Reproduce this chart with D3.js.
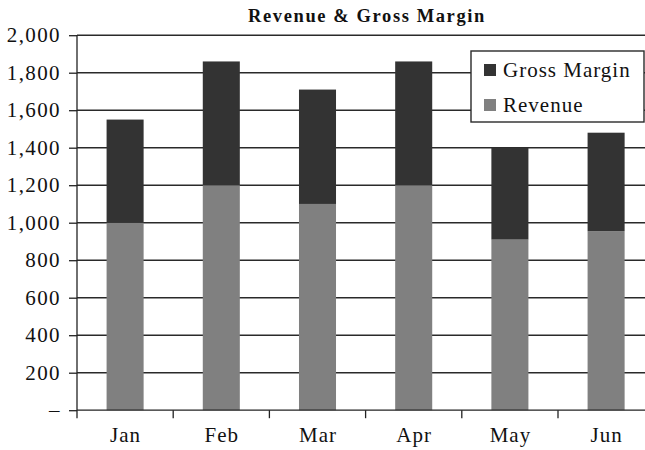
<!DOCTYPE html>
<html>
<head>
<meta charset="utf-8">
<script src="https://cdn.jsdelivr.net/npm/d3@7"></script>
<style>
  html, body { margin: 0; padding: 0; background: #fff; }
  svg { display: block; }
  svg text { font-family: "Liberation Serif", "Times New Roman", serif; }
</style>
</head>
<body>
<svg id="chart" width="645" height="450"></svg>
<script>
// Monthly figures
const months = ["Jan", "Feb", "Mar", "Apr", "May", "Jun"];
const revenue = [1000, 1200, 1100, 1200, 910, 955];
const grossMargin = [550, 660, 610, 660, 490, 525];
const yTicks = [0, 200, 400, 600, 800, 1000, 1200, 1400, 1600, 1800, 2000];
const seriesNames = ["Gross Margin", "Revenue"];
const seriesColors = { "Revenue": "#808080", "Gross Margin": "#333333" };

const FONT = "'Liberation Serif', 'Times New Roman', serif";
const svg = d3.select("#chart");
const plotLeft = 77, plotTop = 35.2, plotBottom = 410.2;
const step = 96.2;

const x = d3.scaleBand()
  .domain(months)
  .range([plotLeft, plotLeft + step * months.length])
  .paddingInner(0.615)
  .paddingOuter(0.3075);

const y = d3.scaleLinear().domain([0, 2000]).range([plotBottom, plotTop]);

// Title
svg.append("text")
  .attr("x", 367).attr("y", 22.3)
  .attr("text-anchor", "middle")
  .attr("font-family", FONT)
  .attr("font-weight", "bold")
  .attr("font-size", 18.5)
  .attr("letter-spacing", 1.6)
  .attr("fill", "#111")
  .text("Revenue & Gross Margin");

// Horizontal gridlines
svg.append("g")
  .selectAll("line")
  .data(yTicks.filter(d => d > 0))
  .join("line")
  .attr("x1", plotLeft).attr("x2", 645)
  .attr("y1", d => y(d)).attr("y2", d => y(d))
  .attr("stroke", "#2a2a2a")
  .attr("stroke-width", 1.4);

// Stacked bars
const rows = months.map((m, i) => ({ month: m, Revenue: revenue[i], "Gross Margin": grossMargin[i] }));
const stack = d3.stack().keys(["Revenue", "Gross Margin"])(rows);

svg.append("g")
  .selectAll("g")
  .data(stack)
  .join("g")
  .attr("fill", d => seriesColors[d.key])
  .selectAll("rect")
  .data(d => d)
  .join("rect")
  .attr("x", d => x(d.data.month))
  .attr("width", x.bandwidth())
  .attr("y", d => y(d[1]))
  .attr("height", d => y(d[0]) - y(d[1]));

// Y axis
const yAxis = d3.axisLeft(y)
  .tickValues(yTicks)
  .tickSize(8)
  .tickPadding(8)
  .tickFormat(d => d === 0 ? "\u2013" : d3.format(",")(d));

const gy = svg.append("g")
  .attr("transform", `translate(${plotLeft},0)`)
  .call(yAxis)
  .attr("font-family", FONT);
gy.select(".domain").attr("stroke", "#222").attr("stroke-width", 1.3).attr("d", `M0,${plotTop}V${plotBottom}`);
gy.selectAll(".tick line").attr("stroke", "#222").attr("stroke-width", 1.3);
gy.selectAll(".tick text")
  .attr("font-size", 21)
  .attr("letter-spacing", 1.4)
  .attr("fill", "#111")
  .attr("font-family", FONT);

// X axis: ticks at category boundaries, labels centred under bars
const boundaries = d3.range(months.length).map(i => plotLeft + i * step);
const gx = svg.append("g");
gx.append("line")
  .attr("x1", plotLeft).attr("x2", 645)
  .attr("y1", plotBottom).attr("y2", plotBottom)
  .attr("stroke", "#222").attr("stroke-width", 1.3);
gx.selectAll("line.tick")
  .data(boundaries)
  .join("line")
  .attr("class", "tick")
  .attr("x1", d => d).attr("x2", d => d)
  .attr("y1", plotBottom).attr("y2", plotBottom + 8)
  .attr("stroke", "#222").attr("stroke-width", 1.3);
gx.selectAll("text")
  .data(months)
  .join("text")
  .attr("x", d => x(d) + x.bandwidth() / 2 + 0.5)
  .attr("y", 442.3)
  .attr("text-anchor", "middle")
  .attr("font-family", FONT)
  .attr("font-size", 21)
  .attr("letter-spacing", 1)
  .attr("fill", "#111")
  .text(d => d);

// Legend
const lg = svg.append("g");
lg.append("rect")
  .attr("x", 471).attr("y", 51)
  .attr("width", 173).attr("height", 71)
  .attr("fill", "#fff")
  .attr("stroke", "#2a2a2a").attr("stroke-width", 1.4);
const items = lg.selectAll("g.item")
  .data(seriesNames)
  .join("g")
  .attr("class", "item")
  .attr("transform", (d, i) => `translate(484,${64 + i * 35})`);
items.append("rect")
  .attr("width", 12).attr("height", 12)
  .attr("fill", d => seriesColors[d]);
items.append("text")
  .attr("x", 19).attr("y", 13)
  .attr("font-family", FONT)
  .attr("font-size", 21)
  .attr("letter-spacing", 1)
  .attr("fill", "#111")
  .text(d => d);
</script>
</body>
</html>
